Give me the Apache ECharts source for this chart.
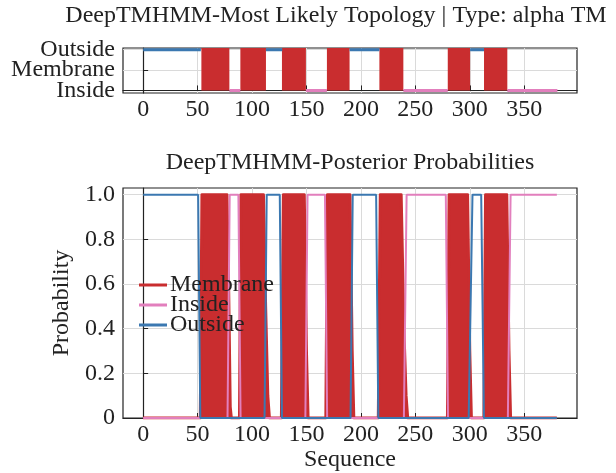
<!DOCTYPE html>
<html>
<head>
<meta charset="utf-8">
<script src="https://cdn.jsdelivr.net/npm/echarts@6/dist/echarts.min.js"></script>
<style>
    html, body { margin: 0; padding: 0; background: #fff; }
    #chart { width: 616px; height: 473px; }
</style>
</head>
<body>
<div id="chart"></div>
<script>
// topology segments [start, end]
const topoOutside = [[0, 53], [112.8, 127.8], [189.6, 217], [300.3, 313.1]];
const topoInside = [[79.2, 89.3], [149.5, 168.8], [239, 279.8], [334.5, 380.5]];
const topoMembrane = [[53.5, 79.2], [89.3, 112.8], [127.5, 149.5], [168.8, 189.6], [217, 239], [279.8, 300.3], [313.1, 334.5]];
const topoLabels = ['Inside', 'Membrane', 'Outside'];

// posterior probability keypoints [sequence, probability]
const probMembrane = [
    [0, 0], [52.5, 0], [54, 1], [77, 1], [78.5, 0.6], [80, 0.05], [81, 0],
    [88.5, 0], [89.8, 1], [110.5, 1], [112.5, 0.5], [114.5, 0.1], [116, 0],
    [127, 0], [128.8, 1], [148, 1], [150, 0.3], [151.5, 0],
    [167.8, 0], [169.3, 1], [190, 1], [192, 0.3], [193.5, 0],
    [216, 0], [217.8, 1], [237, 1], [239.5, 0.4], [241.5, 0.1], [243, 0],
    [279.5, 0], [281, 1], [298, 1], [300, 0.3], [301.5, 0],
    [313, 0], [314.5, 1], [334, 1], [336, 0.3], [337.5, 0], [380, 0]
];
const probInside = [
    [0, 0], [77.5, 0], [79.5, 1], [87.5, 1], [89.5, 0],
    [149, 0], [151, 1], [167, 1], [169, 0],
    [239.5, 0], [242, 1], [278, 1], [280, 0],
    [335, 0], [337.5, 1], [380, 1]
];
const probOutside = [
    [0, 1], [50.5, 1], [52.5, 0], [111.5, 0], [113.5, 1], [125.5, 1], [127.5, 0],
    [190.5, 0], [192.5, 1], [214, 1], [216, 0], [299, 0], [302.5, 1], [310.5, 1],
    [313, 0], [380, 0]
];

const RED = '#c92d2f';
const PINK = '#e27fbd';
const BLUE = '#3b78b1';
const FONT = 'Liberation Serif';
const TOP_MAX = 2.08;

function levelLine(segs, level) {
    let out = [];
    segs.forEach(function (s) {
        out.push([s[0], level], [s[1], level], [s[1], null]);
    });
    return out;
}
function blocks(segs, h) {
    let out = [];
    segs.forEach(function (s) {
        out.push([s[0], 0], [s[0], h], [s[1], h], [s[1], 0]);
    });
    return out;
}

let xAxisBase = function (gridIndex) {
    return {
        type: 'value', gridIndex: gridIndex, min: -18.5, max: 398.5, splitNumber: 8,
        axisLine: { show: true, lineStyle: { color: '#222', width: 1.2 } },
        axisTick: { show: true, inside: true, length: 5, lineStyle: { color: '#222' } },
        axisLabel: { showMinLabel: false, showMaxLabel: false, margin: 5,
            fontFamily: FONT, fontSize: 24, color: '#222' },
        splitLine: { show: true, showMinLine: false, showMaxLine: false,
            lineStyle: { color: '#dadada', width: 1 } }
    };
};

let myChart = echarts.init(document.getElementById('chart'));
myChart.setOption({
    animation: false,
    title: [
        { text: 'DeepTMHMM-Most Likely Topology | Type: alpha TM', left: 336, top: 4, padding: 0,
          textAlign: 'center', textStyle: { fontFamily: FONT, fontSize: 24, fontWeight: 'normal', color: '#222' } },
        { text: 'DeepTMHMM-Posterior Probabilities', left: 350, top: 151, padding: 0,
          textAlign: 'center', textStyle: { fontFamily: FONT, fontSize: 24, fontWeight: 'normal', color: '#222' } }
    ],
    legend: {
        left: 134, top: 268, orient: 'vertical', itemGap: -4,
        itemWidth: 28, itemHeight: 3, icon: 'rect',
        data: ['Membrane', 'Inside', 'Outside'],
        textStyle: { fontFamily: FONT, fontSize: 24, color: '#222', padding: [0, 0, 0, -2] }
    },
    grid: [
        { left: 123, top: 48, width: 454, height: 45, show: true, borderColor: '#222', borderWidth: 1.2 },
        { left: 123, top: 188, width: 454, height: 230, show: true, borderColor: '#222', borderWidth: 1.2 }
    ],
    xAxis: [
        xAxisBase(0),
        Object.assign(xAxisBase(1), { name: 'Sequence', nameLocation: 'middle', nameGap: 30,
            nameTextStyle: { fontFamily: FONT, fontSize: 24, color: '#222' } })
    ],
    yAxis: [
        {
            type: 'value', gridIndex: 0, min: -0.125, max: TOP_MAX, splitNumber: 2,
            axisLine: { show: true, lineStyle: { color: '#222', width: 1.2 } },
            axisTick: { show: true, inside: true, length: 5, lineStyle: { color: '#222' } },
            axisLabel: { showMinLabel: false, showMaxLabel: false, margin: 8,
                fontFamily: FONT, fontSize: 24, color: '#222', lineHeight: 20,
                formatter: function (v) { return topoLabels[Math.round(v)] || ''; } },
            splitLine: { show: true, showMinLine: false, showMaxLine: false,
                lineStyle: { color: '#dadada', width: 1 } }
        },
        {
            type: 'value', gridIndex: 1, min: 0, max: 1.03, interval: 0.2,
            name: 'Probability', nameLocation: 'middle', nameGap: 44,
            nameTextStyle: { fontFamily: FONT, fontSize: 24, color: '#222' },
            axisLine: { show: true, lineStyle: { color: '#222', width: 1.2 } },
            axisTick: { show: true, inside: true, length: 5, lineStyle: { color: '#222' } },
            axisLabel: { showMaxLabel: false, margin: 8,
                fontFamily: FONT, fontSize: 24, color: '#222',
                formatter: function (v) { return v === 0 ? '0' : v.toFixed(1); } },
            splitLine: { show: true, showMinLine: false, showMaxLine: false,
                lineStyle: { color: '#dadada', width: 1 } }
        }
    ],
    series: [
        // upper panel
        { type: 'line', xAxisIndex: 0, yAxisIndex: 0, symbol: 'none', silent: true,
          data: levelLine(topoOutside, 2), lineStyle: { color: BLUE, width: 3 } },
        { type: 'line', xAxisIndex: 0, yAxisIndex: 0, symbol: 'none', silent: true,
          data: levelLine(topoInside, 0), lineStyle: { color: PINK, width: 3 } },
        { type: 'line', xAxisIndex: 0, yAxisIndex: 0, symbol: 'none', silent: true,
          data: blocks(topoMembrane, TOP_MAX), lineStyle: { width: 0 },
          areaStyle: { color: RED, opacity: 1, origin: 0 } },
        // lower panel
        { name: 'Membrane', type: 'line', xAxisIndex: 1, yAxisIndex: 1, symbol: 'none',
          data: probMembrane, color: RED,
          lineStyle: { color: RED, width: 3, join: 'round' },
          areaStyle: { color: RED, opacity: 1 } },
        { name: 'Inside', type: 'line', xAxisIndex: 1, yAxisIndex: 1, symbol: 'none',
          data: probInside, color: PINK, lineStyle: { color: PINK, width: 2 } },
        { name: 'Outside', type: 'line', xAxisIndex: 1, yAxisIndex: 1, symbol: 'none',
          data: probOutside, color: BLUE, lineStyle: { color: BLUE, width: 2 } }
    ]
});
</script>
</body>
</html>
